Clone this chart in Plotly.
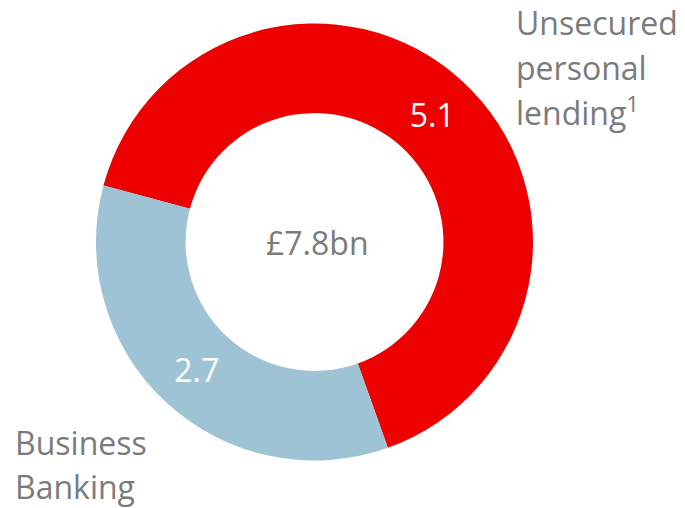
import plotly.graph_objects as go

# Portfolio split (£bn)
segments = ["Unsecured personal lending", "Business Banking"]
values = [5.1, 2.7]
colors = ["#EC0000", "#9DC3D4"]
total_label = "£7.8bn"
right_label_lines = ["Unsecured", "personal", "lending<sup>1</sup>"]
left_label_lines = ["Business", "Banking"]

GREY = "#7B7B7B"
FONT = "Open Sans"
W, H = 685, 508

fig = go.Figure(
    go.Pie(
        labels=segments,
        values=values,
        sort=False,
        direction="clockwise",
        rotation=-75,
        hole=0.59,
        marker=dict(colors=colors, line=dict(width=0)),
        texttemplate="%{value:.1f}",
        textposition="inside",
        insidetextorientation="horizontal",
        textfont=dict(family=FONT, size=32, color="white"),
        domain=dict(x=[96 / W, 533 / W], y=[47 / H, 485 / H]),
        showlegend=False,
        hoverinfo="label+value",
    )
)


def label(text, x_px, y_px, size=32):
    fig.add_annotation(
        text=text, x=x_px / W, y=1 - y_px / H, xref="paper", yref="paper",
        showarrow=False, align="left", xanchor="left", yanchor="middle",
        borderpad=0, font=dict(family=FONT, size=size, color=GREY),
    )


fig.add_annotation(
    text=total_label, x=317 / W, y=1 - 242 / H, xref="paper", yref="paper",
    showarrow=False, font=dict(family=FONT, size=32, color=GREY),
    xanchor="center", yanchor="middle",
)

for line, y_px in zip(right_label_lines, [22, 67, 111]):
    label(line, 515, y_px)
for line, y_px in zip(left_label_lines, [442, 486]):
    label(line, 14, y_px)

fig.update_layout(
    width=W, height=H,
    margin=dict(l=0, r=0, t=0, b=0),
    paper_bgcolor="white", plot_bgcolor="white",
)

fig.write_html("out.html")
